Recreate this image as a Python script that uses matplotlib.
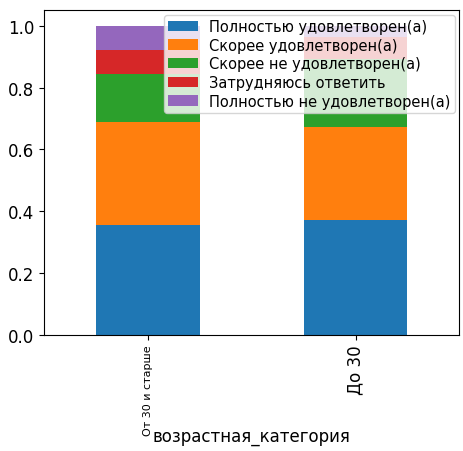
import matplotlib.pyplot as plt
import numpy as np

categories = ['От 30 и старше', 'До 30']
labels = ['Полностью удовлетворен(а)', 'Скорее удовлетворен(а)',
          'Скорее не удовлетворен(а)', 'Затрудняюсь ответить',
          'Полностью не удовлетворен(а)']
values = [
    [0.355, 0.370],
    [0.335, 0.304],
    [0.153, 0.217],
    [0.080, 0.071],
    [0.077, 0.038],
]
colors = ['#1f77b4', '#ff7f0e', '#2ca02c', '#d62728', '#9467bd']

fig, ax = plt.subplots(figsize=(4.64, 4.52), dpi=100)
x = np.arange(len(categories))
bottom = np.zeros(len(categories))
for lab, vals, c in zip(labels, values, colors):
    ax.bar(x, vals, 0.5, bottom=bottom, color=c, label=lab)
    bottom += np.array(vals)

ax.set_xticks(x)
ax.set_xticklabels(categories, rotation=90)
ax.get_xticklabels()[0].set_fontsize(8)
ax.get_xticklabels()[1].set_fontsize(12)
ax.tick_params(axis='y', labelsize=12)
ax.set_xlabel('возрастная_категория', fontsize=12)
ax.xaxis.set_label_coords(0.5, -0.285)
ax.set_xlim(-0.5, 1.5)
ax.set_ylim(0, 1.05)
ax.legend(loc='upper right', fontsize=10.5, handlelength=2, borderpad=0.3,
          labelspacing=0.25, borderaxespad=0.3)
fig.subplots_adjust(left=0.095, right=0.99, top=0.975, bottom=0.257)
fig.savefig('out.png')
